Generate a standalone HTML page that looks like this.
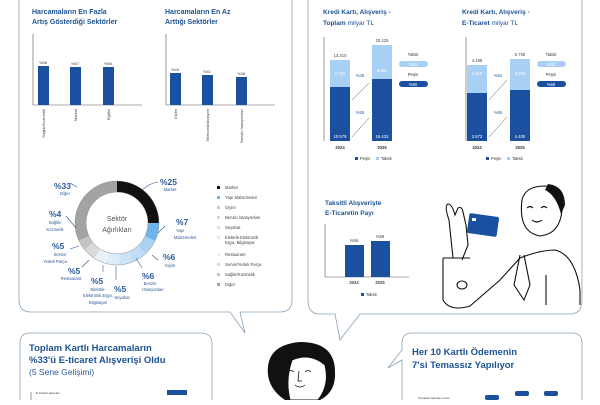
<!DOCTYPE html>
<html><head><meta charset="utf-8"><style>
body{margin:0;background:#fff;width:600px;height:400px;overflow:hidden;font-family:"Liberation Sans",sans-serif}
text{font-family:"Liberation Sans",sans-serif}
.t{fill:#1d5294;font-weight:bold}
.s{fill:#2a5a96}
</style></head><body>
<svg width="600" height="400" viewBox="0 0 600 400" xmlns="http://www.w3.org/2000/svg">
<path d="M19,0 V300 Q19,312 31,312 H230 L245,333 L240,312 H280 Q292,312 292,300 V0" fill="none" stroke="#8aa3b8" stroke-width="0.8"/>
<path d="M308,0 V300 Q308,314 320,314 H335 L340,340 L360,314 H570 Q582,314 582,300 V0" fill="none" stroke="#8aa3b8" stroke-width="0.8"/>
<path d="M20,400 V343 Q20,333 30,333 H200 Q212,333 212,343 V400" fill="none" stroke="#8aa3b8" stroke-width="0.8"/>
<path d="M582,400 V343 Q582,333 572,333 H412 Q402,333 402,343 V350 L388,368 L402,360 V400" fill="none" stroke="#8aa3b8" stroke-width="0.8"/>

<text class="t" font-size="7" x="32" y="14">Harcamaların En Fazla</text>
<text class="t" font-size="7" x="32" y="24">Artış Gösterdiği Sektörler</text>
<line x1="33" y1="34" x2="33" y2="105" stroke="#555" stroke-width="0.6"/>
<line x1="33" y1="105" x2="142" y2="105" stroke="#555" stroke-width="0.6"/>
<rect x="38" y="66" width="11" height="39" fill="#1b4fa0"/><rect x="70" y="67" width="11" height="38" fill="#1b4fa0"/><rect x="103" y="67" width="11" height="38" fill="#1b4fa0"/>
<g font-size="4" fill="#444" text-anchor="middle"><text x="43" y="64">%58</text><text x="75" y="65">%57</text><text x="108" y="65">%56</text></g>
<g font-size="4" fill="#444" text-anchor="end"><text transform="translate(45,109) rotate(-90)">Sağlık/Kozmetik</text><text transform="translate(77,109) rotate(-90)">Market</text><text transform="translate(110,109) rotate(-90)">Eğitim</text></g>

<text class="t" font-size="7" x="165" y="14">Harcamaların En Az</text>
<text class="t" font-size="7" x="165" y="24">Arttığı Sektörler</text>
<line x1="166" y1="34" x2="166" y2="105" stroke="#555" stroke-width="0.6"/>
<line x1="166" y1="105" x2="275" y2="105" stroke="#555" stroke-width="0.6"/>
<rect x="170" y="73" width="11" height="32" fill="#1b4fa0"/><rect x="202" y="75" width="11" height="30" fill="#1b4fa0"/><rect x="236" y="77" width="11" height="28" fill="#1b4fa0"/>
<g font-size="4" fill="#444" text-anchor="middle"><text x="175" y="71">%45</text><text x="207" y="73">%41</text><text x="241" y="75">%38</text></g>
<g font-size="4" fill="#444" text-anchor="end"><text transform="translate(177,109) rotate(-90)">Giyim</text><text transform="translate(209,109) rotate(-90)">Telekomünikasyon</text><text transform="translate(243,109) rotate(-90)">Benzin İstasyonları</text></g>

<!-- donut -->
<g transform="translate(117,223) rotate(-90)" fill="none" stroke-width="11">
<circle r="36.5" stroke="#111" stroke-dasharray="57.33 300" stroke-dashoffset="0"/>
<circle r="36.5" stroke="#6fb3ee" stroke-dasharray="16.05 300" stroke-dashoffset="-57.33"/>
<circle r="36.5" stroke="#a9d2f5" stroke-dasharray="13.76 300" stroke-dashoffset="-73.38"/>
<circle r="36.5" stroke="#bfddf7" stroke-dasharray="13.76 300" stroke-dashoffset="-87.14"/>
<circle r="36.5" stroke="#cde4f8" stroke-dasharray="11.47 300" stroke-dashoffset="-100.9"/>
<circle r="36.5" stroke="#dcecfa" stroke-dasharray="11.47 300" stroke-dashoffset="-112.37"/>
<circle r="36.5" stroke="#e9f1f8" stroke-dasharray="11.47 300" stroke-dashoffset="-123.84"/>
<circle r="36.5" stroke="#dadada" stroke-dasharray="11.47 300" stroke-dashoffset="-135.31"/>
<circle r="36.5" stroke="#c4c4c4" stroke-dasharray="9.17 300" stroke-dashoffset="-146.78"/>
<circle r="36.5" stroke="#a3a3a3" stroke-dasharray="75.67 300" stroke-dashoffset="-155.95"/>
<circle r="42" stroke="#777" stroke-width="0.4"/><circle r="31" stroke="#777" stroke-width="0.4"/>
</g>
<text x="117" y="221" font-size="7" fill="#555" text-anchor="middle">Sektör</text>
<text x="117" y="232" font-size="7" fill="#555" text-anchor="middle">Ağırlıkları</text>
<g class="s" font-weight="bold" font-size="8.5">
<text x="160" y="185">%25</text><text x="176" y="225">%7</text><text x="163" y="260">%6</text><text x="142" y="279">%6</text><text x="114" y="292">%5</text><text x="91" y="284">%5</text><text x="68" y="274">%5</text><text x="52" y="249">%5</text><text x="49" y="217">%4</text><text x="54" y="189">%33</text>
</g>
<g class="s" font-size="4.2" text-anchor="middle">
<text x="170" y="191">Market</text><text x="180" y="232">Yapı</text><text x="185" y="239">Malzemeleri</text><text x="170" y="267">Giyim</text>
<text x="150" y="285">Benzin</text><text x="153" y="291">İstasyonları</text><text x="122" y="299">Seyahat</text>
<text x="98" y="291">Elektrik-</text><text x="98" y="297">Elektronik Eşya,</text><text x="98" y="304">Bilgisayar</text>
<text x="71" y="280">Restaurant</text><text x="60" y="256">Servis/</text><text x="55" y="263">Yedek Parça</text>
<text x="55" y="224">Sağlık/</text><text x="55" y="231">Kozmetik</text><text x="65" y="195">Diğer</text>
</g>
<g stroke="#2a5a96" stroke-width="0.6" fill="none"><path d="M142,190 Q150,183 158,182"/><path d="M158,233 L165,226"/><path d="M152,255 L158,260"/><path d="M136,258 L142,268"/><path d="M116,266 L116,280"/><path d="M103,265 L103,272"/><path d="M89,260 L82,267"/><path d="M79,246 L70,249"/><path d="M76,228 L66,216"/><path d="M77,187 L70,183"/></g>
<g font-size="4.2" fill="#444">
<rect x="217" y="186" width="3" height="3" fill="#111"/><text x="225" y="189">Market</text>
<rect x="217" y="196" width="3" height="3" fill="#6fb3ee"/><text x="225" y="199">Yapı Malzemeleri</text>
<rect x="217" y="206" width="3" height="3" fill="#a9d2f5"/><text x="225" y="209">Giyim</text>
<rect x="217" y="216" width="3" height="3" fill="#bfddf7"/><text x="225" y="219">Benzin İstasyonları</text>
<rect x="217" y="226" width="3" height="3" fill="#cde4f8"/><text x="225" y="229">Seyahat</text>
<rect x="217" y="236" width="3" height="3" fill="#dcecfa"/><text x="225" y="239">Elektrik-Elektronik</text><text x="225" y="244">Eşya, Bilgisayar</text>
<rect x="217" y="253" width="3" height="3" fill="#e9f1f8"/><text x="225" y="256">Restaurant</text>
<rect x="217" y="263" width="3" height="3" fill="#dadada"/><text x="225" y="266">Servis/Yedek Parça</text>
<rect x="217" y="273" width="3" height="3" fill="#c4c4c4"/><text x="225" y="276">Sağlık/Kozmetik</text>
<rect x="217" y="283" width="3" height="3" fill="#a3a3a3"/><text x="225" y="286">Diğer</text>
</g>

<text class="t" font-size="6.5" x="323" y="14">Kredi Kartı, Alışveriş -</text>
<text font-size="6.5" x="323" y="25" fill="#1d5294"><tspan font-weight="bold">Toplam</tspan> milyar TL</text>
<line x1="324" y1="37" x2="324" y2="141" stroke="#555" stroke-width="0.6"/>
<rect x="330" y="60" width="20" height="27" fill="#a8d0f5"/><rect x="330" y="87" width="20" height="54" fill="#1b4fa0"/>
<rect x="372" y="45" width="20" height="34" fill="#a8d0f5"/><rect x="372" y="79" width="20" height="62" fill="#1b4fa0"/>
<g font-size="4.2" text-anchor="middle"><text x="340" y="57" fill="#444">13.310</text><text x="382" y="42" fill="#444">20.425</text>
<text x="340" y="75" fill="#fff">2.731</text><text x="382" y="72" fill="#fff">3.991</text><text x="340" y="138" fill="#fff">10.579</text><text x="382" y="138" fill="#fff">16.433</text>
<text x="340" y="149" fill="#333" font-weight="bold">2024</text><text x="382" y="149" fill="#333" font-weight="bold">2025</text>
<text x="360" y="77" fill="#2a5a96">%46</text><text x="360" y="114" fill="#2a5a96">%55</text></g>
<g stroke="#555" stroke-width="0.5"><line x1="352" y1="100" x2="369" y2="83"/><line x1="352" y1="137" x2="369" y2="118"/></g>
<rect x="399" y="61" width="29" height="6" rx="3" fill="#a8d0f5"/><rect x="399" y="81" width="29" height="6" rx="3" fill="#1b4fa0"/>
<g font-size="4.2" text-anchor="middle"><text x="413" y="56" fill="#333">Taksit</text><text x="413" y="66" fill="#fff">%20</text><text x="413" y="76" fill="#333">Peşin</text><text x="413" y="86" fill="#fff">%80</text></g>
<g font-size="4.2" fill="#333"><rect x="355" y="157" width="3" height="3" fill="#1b4fa0"/><text x="360" y="160">Peşin</text><rect x="376" y="157" width="3" height="3" fill="#a8d0f5"/><text x="381" y="160">Taksit</text></g>

<text class="t" font-size="6.5" x="462" y="14">Kredi Kartı, Alışveriş -</text>
<text font-size="6.5" x="462" y="25" fill="#1d5294"><tspan font-weight="bold">E-Ticaret</tspan> milyar TL</text>
<line x1="466" y1="37" x2="466" y2="141" stroke="#555" stroke-width="0.6"/>
<rect x="467" y="65" width="20" height="28" fill="#a8d0f5"/><rect x="467" y="93" width="20" height="48" fill="#1b4fa0"/>
<rect x="510" y="59" width="20" height="31" fill="#a8d0f5"/><rect x="510" y="90" width="20" height="51" fill="#1b4fa0"/>
<g font-size="4.2" text-anchor="middle"><text x="477" y="62" fill="#444">4.188</text><text x="520" y="56" fill="#444">6.706</text>
<text x="477" y="75" fill="#fff">1.515</text><text x="520" y="75" fill="#fff">2.306</text><text x="477" y="138" fill="#fff">2.673</text><text x="520" y="138" fill="#fff">4.400</text>
<text x="477" y="149" fill="#333" font-weight="bold">2024</text><text x="520" y="149" fill="#333" font-weight="bold">2025</text>
<text x="498" y="77" fill="#2a5a96">%52</text><text x="498" y="114" fill="#2a5a96">%65</text></g>
<g stroke="#555" stroke-width="0.5"><line x1="489" y1="100" x2="507" y2="80"/><line x1="489" y1="137" x2="507" y2="117"/></g>
<rect x="537" y="61" width="29" height="6" rx="3" fill="#a8d0f5"/><rect x="537" y="81" width="29" height="6" rx="3" fill="#1b4fa0"/>
<g font-size="4.2" text-anchor="middle"><text x="551" y="56" fill="#333">Taksit</text><text x="551" y="66" fill="#fff">%34</text><text x="551" y="76" fill="#333">Peşin</text><text x="551" y="86" fill="#fff">%66</text></g>
<g font-size="4.2" fill="#333"><rect x="486" y="157" width="3" height="3" fill="#1b4fa0"/><text x="491" y="160">Peşin</text><rect x="507" y="157" width="3" height="3" fill="#a8d0f5"/><text x="512" y="160">Taksit</text></g>

<text class="t" font-size="6.5" x="325" y="205">Taksitli Alışverişte</text>
<text class="t" font-size="6.5" x="325" y="215">E-Ticaretin Payı</text>
<line x1="325" y1="224" x2="325" y2="277" stroke="#555" stroke-width="0.6"/><line x1="325" y1="277" x2="409" y2="277" stroke="#555" stroke-width="0.6"/>
<rect x="345" y="245" width="19" height="32" fill="#1b4fa0"/><rect x="371" y="241" width="19" height="36" fill="#1b4fa0"/>
<g font-size="4.2" fill="#444" text-anchor="middle"><text x="354" y="242">%56</text><text x="380" y="238">%58</text><text x="354" y="284" font-weight="bold">2024</text><text x="380" y="284" font-weight="bold">2025</text></g>
<rect x="361" y="293" width="3" height="3" fill="#1b4fa0"/><text x="366" y="296" font-size="4.2" fill="#333">Taksit</text>

<!-- man -->
<g fill="none" stroke="#111" stroke-width="1.1">
<path d="M522,200 Q518,232 540,236 Q560,234 562,210 Q565,188 545,186 Q525,186 522,200"/>
<path d="M453,258 L449,220 Q444,206 448,204 Q452,204 455,215 L458,208 Q462,206 463,212 L466,225 L468,245 L462,260"/>
<path d="M443,258 L443,300 Q450,312 470,306 L500,280 L520,258 Q540,250 555,250 Q575,255 580,290 L580,305"/>
<path d="M520,255 L514,285 L524,300 L530,285 L524,255"/>
<path d="M546,275 L546,305"/>
<path d="M443,258 L470,258"/>
<ellipse cx="462" cy="285" rx="5" ry="4"/>
<path d="M527,208 Q530,205 533,208"/><path d="M541,208 Q544,205 547,208"/><path d="M532,220 Q537,224 542,220"/>
</g>
<path d="M548,184 Q565,186 565,205 L561,214 Q556,195 545,190 Z" fill="#111"/>
<rect x="468" y="215" width="30" height="20" rx="2" fill="#1b4fa0" transform="rotate(8 483 225)"/>
<rect x="472" y="218" width="4" height="3" fill="#fff"/>

<!-- woman -->
<path d="M285,400 Q270,390 268,375 Q265,345 300,342 Q335,342 335,372 Q336,392 320,400 Z" fill="#111"/>
<path d="M290,400 Q285,380 292,360 Q310,352 325,365 Q330,385 318,400 Z" fill="#fff" stroke="#111" stroke-width="1"/>
<g fill="none" stroke="#111" stroke-width="0.8"><path d="M288,372 Q291,369 294,372"/><path d="M305,372 Q308,369 311,372"/><path d="M299,371 L298,381 L302,381"/><path d="M295,385 Q300,389 305,385"/></g>

<text class="t" font-size="9.5" x="29" y="351">Toplam Kartlı Harcamaların</text>
<text class="t" font-size="9.5" x="29" y="363">%33'ü E-ticaret Alışverişi Oldu</text>
<text font-size="8.5" x="29" y="375" fill="#2a5a96">(5 Sene Gelişimi)</text>
<line x1="31" y1="392" x2="31" y2="400" stroke="#555" stroke-width="0.6"/>
<text x="36" y="394" font-size="3" fill="#333">E-Ticaret işlemleri</text>
<rect x="167" y="390" width="20" height="5" fill="#1b4fa0"/>
<text class="t" font-size="9.5" x="412" y="355">Her 10 Kartlı Ödemenin</text>
<text class="t" font-size="9.5" x="412" y="368">7'si Temassız Yapılıyor</text>
<text x="418" y="399" font-size="3" fill="#333">Temassız işlemler oranı</text>
<rect x="485" y="395" width="14" height="5" rx="2" fill="#1b4fa0"/><rect x="515" y="391" width="14" height="5" rx="2" fill="#1b4fa0"/><rect x="544" y="391" width="14" height="5" rx="2" fill="#1b4fa0"/>
</svg>
</body></html>
